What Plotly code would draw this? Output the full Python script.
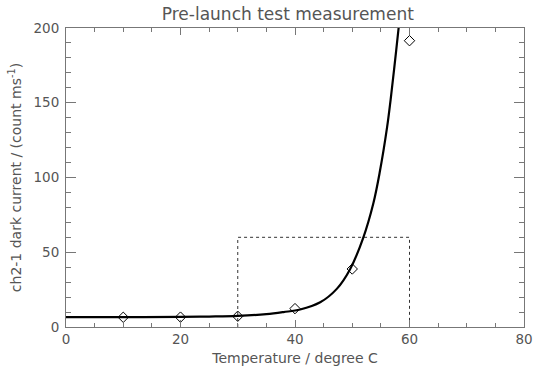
import plotly.graph_objects as go

# measured points
temp = [10, 20, 30, 40, 50, 60]
dark = [6.5, 6.6, 7.2, 12.3, 38.8, 191.5]

# fitted curve
fit_x = [0, 10, 20, 25, 30, 35, 38, 40.9, 44.4, 47.3, 49.6, 51.9, 53.7, 54.8, 56.1, 56.7, 57.3, 58.1, 58.6]
fit_y = [6.6, 6.6, 6.8, 7.0, 7.4, 8.6, 10.0, 11.7, 16.5, 25.5, 38.5, 59.5, 83.0, 103.5, 134.0, 152.0, 172.0, 200.0, 218.0]

# dotted box
box_x = [30, 30, 60, 60]
box_y = [0, 60, 60, 0]

FONT = "DejaVu Sans"
TXT = "#555"
AX = "#777"

fig = go.Figure()
fig.add_trace(go.Scatter(x=box_x, y=box_y, mode="lines",
                         line=dict(color="#333", width=1, dash="dot"), showlegend=False))
fig.add_trace(go.Scatter(x=fit_x, y=fit_y, mode="lines", line_shape="spline",
                         line=dict(color="black", width=2.2), showlegend=False))
fig.add_trace(go.Scatter(x=temp, y=dark, mode="markers",
                         marker=dict(symbol="diamond-open", size=8, color="black",
                                     line=dict(color="#222", width=1)),
                         showlegend=False, cliponaxis=False))

fig.update_layout(
    width=533, height=372,
    margin=dict(l=66, r=9, t=28, b=45, autoexpand=False),
    paper_bgcolor="white", plot_bgcolor="white",
    font=dict(family=FONT, color=TXT, size=13),
    title=dict(text="Pre-launch test measurement", x=0.54, xanchor="center",
               y=0.963, yanchor="middle", font=dict(size=17, color=TXT)),
)
fig.update_xaxes(
    range=[0, 80], tickvals=[0, 20, 40, 60, 80], ticks="inside", ticklen=7,
    tickcolor=AX, tickwidth=1, showline=True, linecolor=AX, linewidth=1,
    mirror="ticks", showgrid=False, zeroline=False,
    minor=dict(dtick=5, ticks="inside", ticklen=4, tickcolor=AX, showgrid=False),
    title=dict(text="Temperature / degree C", standoff=6, font=dict(size=14)),
    tickfont=dict(size=13.5),
)
fig.update_yaxes(
    range=[0, 200], tickvals=[0, 50, 100, 150, 200], ticks="inside", ticklen=10,
    tickcolor=AX, tickwidth=1, showline=True, linecolor=AX, linewidth=1,
    mirror="ticks", showgrid=False, zeroline=False,
    minor=dict(dtick=10, ticks="inside", ticklen=5, tickcolor=AX, showgrid=False),
    title=dict(text="ch2-1 dark current / (count ms<sup>-1</sup>)", standoff=8, font=dict(size=14)),
    tickfont=dict(size=13.5), ticklabelstandoff=3,
)

fig.write_html("out.html")
